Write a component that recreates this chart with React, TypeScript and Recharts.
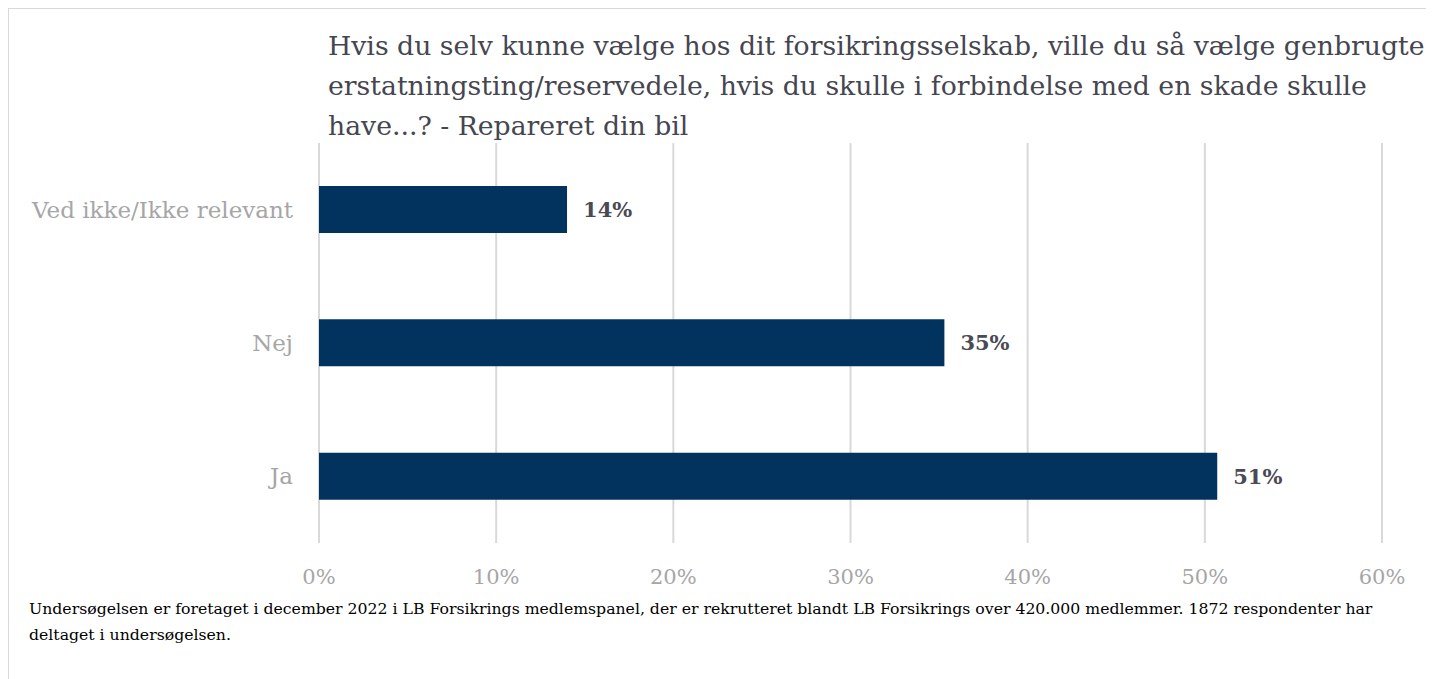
import React from "react";
import { Bar, BarChart, CartesianGrid, LabelList, XAxis, YAxis } from "recharts";

// Survey answers, top to bottom as drawn
const categories = ["Ved ikke/Ikke relevant", "Nej", "Ja"];
const shares = [14.0, 35.3, 50.7];
const shareLabels = ["14%", "35%", "51%"];
const xTicks = [0, 10, 20, 30, 40, 50, 60];

const titleLines = [
  "Hvis du selv kunne vælge hos dit forsikringsselskab, ville du så vælge genbrugte",
  "erstatningsting/reservedele, hvis du skulle i forbindelse med en skade skulle",
  "have...? - Repareret din bil",
];
const footnoteLines = [
  "Undersøgelsen er foretaget i december 2022 i LB Forsikrings medlemspanel, der er rekrutteret blandt LB Forsikrings over 420.000 medlemmer. 1872 respondenter har",
  "deltaget i undersøgelsen.",
];

const FONT = "'DejaVu Serif', 'Liberation Serif', serif";

export default function App() {
  const data = categories.map((name, i) => ({ name, value: shares[i], label: shareLabels[i] }));

  return (
    <div style={{ width: 1426, height: 671, overflow: "hidden" }}>
      <div
        style={{
          position: "relative",
          boxSizing: "border-box",
          width: 1450,
          height: 700,
          border: "1px solid #d9d9d9",
          background: "#fff",
          fontFamily: FONT,
        }}
      >
        <div
          style={{
            position: "absolute",
            left: 319,
            top: 17,
            fontSize: 26.7,
            lineHeight: "40px",
            color: "#45464f",
            whiteSpace: "nowrap",
          }}
        >
          {titleLines.map((l, i) => (
            <div key={i}>{l}</div>
          ))}
        </div>

        <div style={{ position: "absolute", left: 0, top: 0 }}>
          <BarChart
            width={1420}
            height={640}
            data={data}
            layout="vertical"
            margin={{ top: 134, right: 47, bottom: 56, left: 10 }}
          >
            <CartesianGrid horizontal={false} stroke="#d9d9d9" strokeWidth={2} />
            <XAxis
              type="number"
              domain={[0, 60]}
              ticks={xTicks}
              tickFormatter={(v) => `${v}%`}
              axisLine={false}
              tickLine={false}
              tickMargin={20}
              height={50}
              tick={{ fontSize: 21, fill: "#a6a6a6", fontFamily: FONT }}
            />
            <YAxis
              type="category"
              dataKey="name"
              width={300}
              axisLine={false}
              tickLine={false}
              tickMargin={20}
              tick={{ fontSize: 23, fill: "#a6a6a6", fontFamily: FONT }}
            />
            <Bar dataKey="value" fill="#02335f" barSize={47} isAnimationActive={false}>
              <LabelList
                dataKey="label"
                position="right"
                offset={16}
                style={{ fontSize: 21, fontWeight: 700, fill: "#4a4a55", fontFamily: FONT }}
              />
            </Bar>
          </BarChart>
        </div>

        <div
          style={{
            position: "absolute",
            left: 20,
            top: 587,
            fontSize: 15.7,
            lineHeight: "26px",
            color: "#000",
            whiteSpace: "nowrap",
          }}
        >
          {footnoteLines.map((l, i) => (
            <div key={i}>{l}</div>
          ))}
        </div>
      </div>
    </div>
  );
}
